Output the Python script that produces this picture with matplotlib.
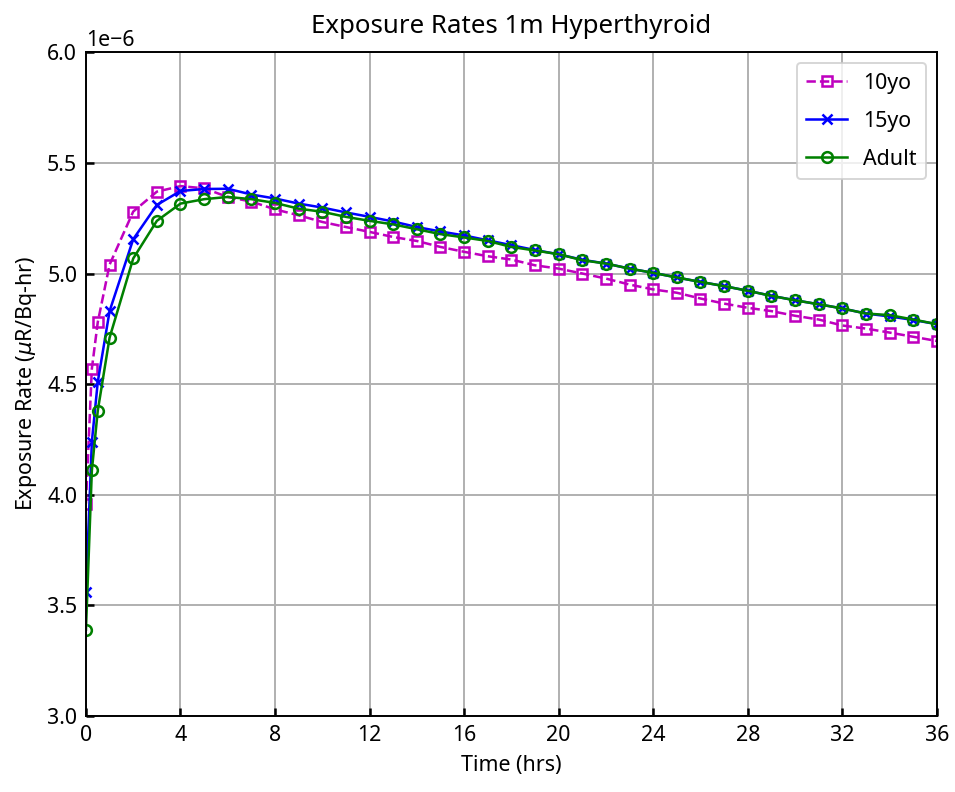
import matplotlib
matplotlib.use("Agg")
import matplotlib.pyplot as plt

plt.rcParams['font.family'] = ['Noto Sans', 'DejaVu Sans']
plt.rcParams['font.size'] = 11

time_hrs = [0, 0.25, 0.5, 1, 2, 3, 4, 5, 6, 7, 8, 9, 10, 11, 12, 13, 14, 15, 16, 17, 18,
            19, 20, 21, 22, 23, 24, 25, 26, 27, 28, 29, 30, 31, 32, 33, 34, 35, 36]

rate_10yo = [3.96, 4.57, 4.78, 5.04, 5.28, 5.37, 5.395, 5.385, 5.346, 5.325, 5.29, 5.263,
             5.233, 5.21, 5.188, 5.165, 5.147, 5.12, 5.098, 5.078, 5.063, 5.037, 5.022,
             5.0, 4.977, 4.95, 4.928, 4.913, 4.887, 4.864, 4.845, 4.83, 4.809, 4.792,
             4.765, 4.751, 4.733, 4.714, 4.695]

rate_15yo = [3.56, 4.24, 4.51, 4.83, 5.155, 5.31, 5.373, 5.382, 5.383, 5.357, 5.339, 5.316,
             5.298, 5.276, 5.256, 5.235, 5.21, 5.19, 5.172, 5.15, 5.128, 5.106, 5.087,
             5.062, 5.045, 5.022, 5.003, 4.982, 4.962, 4.943, 4.922, 4.899, 4.879, 4.861,
             4.842, 4.819, 4.806, 4.79, 4.771]

rate_adult = [3.39, 4.11, 4.38, 4.71, 5.068, 5.238, 5.316, 5.336, 5.346, 5.336, 5.319, 5.293,
              5.279, 5.256, 5.238, 5.222, 5.2, 5.178, 5.163, 5.147, 5.12, 5.104, 5.087,
              5.06, 5.045, 5.022, 5.003, 4.982, 4.962, 4.943, 4.922, 4.899, 4.879, 4.861,
              4.842, 4.819, 4.812, 4.792, 4.771]

x_ticks = [0, 4, 8, 12, 16, 20, 24, 28, 32, 36]
y_ticks = [3.0, 3.5, 4.0, 4.5, 5.0, 5.5, 6.0]

scale = 1e-6

DPI = 140
fig = plt.figure(figsize=(955 / DPI, 792 / DPI), dpi=DPI)
ax = fig.add_axes([0.090, 0.096, 0.891, 0.838])

ax.plot(time_hrs, [v * scale for v in rate_10yo], color='m', linestyle='--', marker='s',
        fillstyle='none', markersize=5.5, markeredgewidth=1.3, linewidth=1.3, label='10yo')
ax.plot(time_hrs, [v * scale for v in rate_15yo], color='b', linestyle='-', marker='x',
        markersize=5.5, markeredgewidth=1.3, linewidth=1.3, label='15yo')
ax.plot(time_hrs, [v * scale for v in rate_adult], color='g', linestyle='-', marker='o',
        fillstyle='none', markersize=5.5, markeredgewidth=1.3, linewidth=1.3, label='Adult')

ax.set_xlim(0, 36)
ax.set_ylim(3.0e-6, 6.0e-6)
ax.set_xticks(x_ticks)
ax.set_yticks([v * scale for v in y_ticks])
ax.grid(True, color='#b0b0b0', linewidth=1.0)
ax.tick_params(direction='in', length=4, width=1.3, pad=4.5)
for s in ax.spines.values():
    s.set_linewidth(1.0)

ax.set_title('Exposure Rates 1m Hyperthyroid', fontsize=13.3, pad=10)
ax.set_xlabel('Time (hrs)', labelpad=5)
ax.set_ylabel(r'Exposure Rate ($\mu$R/Bq-hr)', labelpad=4)
ax.legend(loc='upper right', fontsize=11, borderpad=0.45, labelspacing=0.8,
          handlelength=1.9, handletextpad=0.75)

fig.savefig('out.png', dpi=DPI)
